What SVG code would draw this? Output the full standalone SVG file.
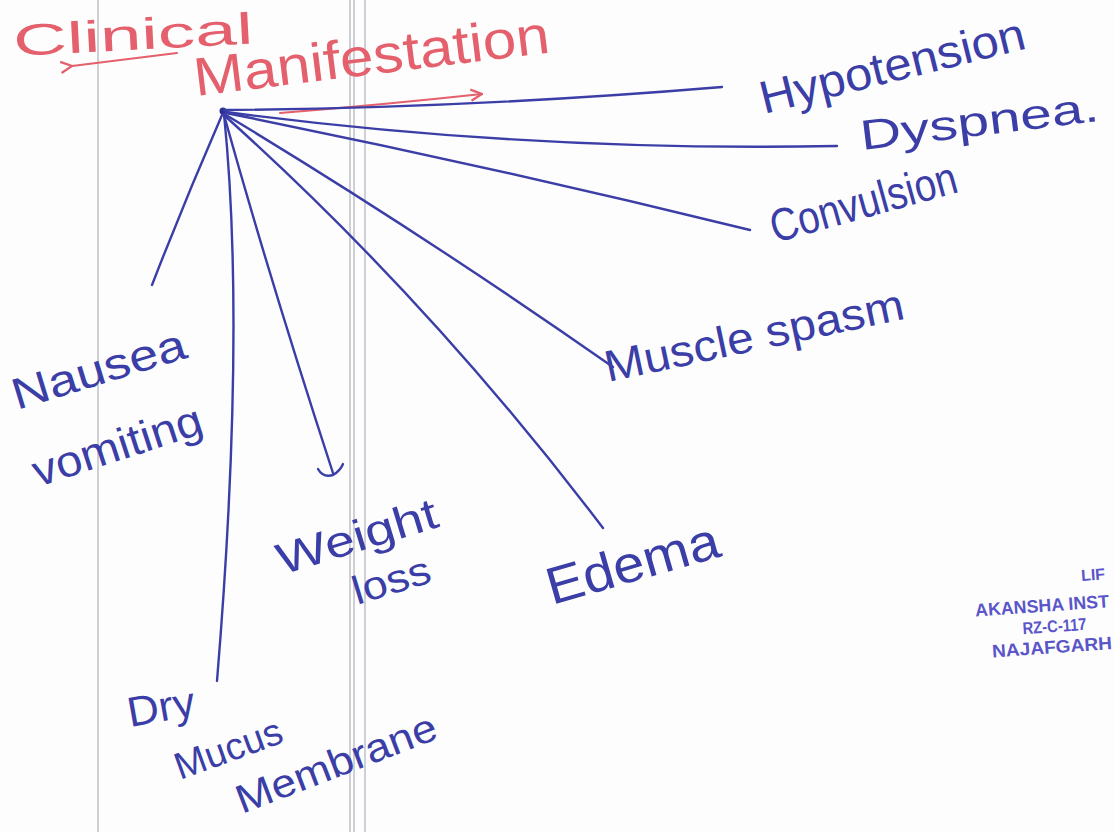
<svg xmlns="http://www.w3.org/2000/svg" width="1115" height="832" viewBox="0 0 1115 832">
  <style>
    .paper { fill: #fdfdfd; }
    .rule { stroke: #cfcfd6; stroke-width: 2; fill: none; }
    .ink { stroke: #3a3ea6; stroke-width: 2.4; fill: none; stroke-linecap: round; stroke-linejoin: round; }
    .red { stroke: #e4606c; stroke-width: 2; fill: none; stroke-linecap: round; stroke-linejoin: round; }
    .lbl { font-family: "Liberation Sans", "DejaVu Sans", sans-serif; fill: #3a3ea6; }
    .title { font-family: "Liberation Sans", "DejaVu Sans", sans-serif; fill: #e4606c; }
    .stamp { font-family: "Liberation Sans Narrow", "Liberation Sans", sans-serif; fill: #5a55c8; font-weight: bold; }
  </style>
  <defs>
    <marker id="tip" viewBox="0 0 10 10" refX="9" refY="5" markerWidth="7" markerHeight="7" orient="auto">
      <path d="M1,1 L9,5 L1,9" fill="none" stroke="#e4606c" stroke-width="1.6"/>
    </marker>
  </defs>

  <rect class="paper" x="0" y="0" width="1115" height="832"/>

  <!-- margin rules of the page -->
  <g id="rules">
    <line class="rule" x1="98" y1="0" x2="98" y2="832"/>
    <line class="rule" x1="350" y1="0" x2="350" y2="832" stroke-width="1.5"/>
    <line class="rule" x1="354" y1="0" x2="354" y2="832" stroke-width="1.5"/>
    <line class="rule" x1="365" y1="0" x2="365" y2="832" stroke-width="1.5"/>
  </g>

  <!-- heading -->
  <g id="title">
    <text class="title" x="14" y="56" font-size="44" transform="rotate(-3 14 56)" textLength="240" lengthAdjust="spacingAndGlyphs">Clinical</text>
    <path class="red" d="M72,66 Q120,60 177,53" marker-start="url(#tip)"/>
    <text class="title" x="196" y="96" font-size="54" transform="rotate(-7 196 96)" textLength="358" lengthAdjust="spacingAndGlyphs">Manifestation</text>
    <path class="red" d="M280,113 Q380,105 482,94" marker-end="url(#tip)"/>
  </g>

  <!-- hub dot -->
  <g id="hub">
    <circle cx="223" cy="111" r="3.5" fill="#2a2e90"/>
  </g>

  <!-- connectors radiating from the hub -->
  <g id="connectors">
    <path class="ink" d="M224,110 Q470,108 722,87"/>
    <path class="ink" d="M226,112 Q530,152 837,146"/>
    <path class="ink" d="M226,113 Q490,166 750,230"/>
    <path class="ink" d="M226,115 Q420,232 613,367"/>
    <path class="ink" d="M225,116 Q430,300 603,528"/>
    <path class="ink" d="M224,115 Q270,280 333,473"/>
    <path class="ink" d="M318,469 Q323,478 333,475 Q340,471 343,464"/>
    <path class="ink" d="M224,114 Q246,330 217,681"/>
    <path class="ink" d="M222,115 Q185,200 152,285"/>
  </g>

  <g id="hypotension">
    <text class="lbl" x="764" y="114" font-size="46" transform="rotate(-14 764 114)" textLength="272" lengthAdjust="spacingAndGlyphs">Hypotension</text>
  </g>
  <g id="dyspnea">
    <text class="lbl" x="862" y="150" font-size="42" transform="rotate(-7 862 150)" textLength="240" lengthAdjust="spacingAndGlyphs">Dyspnea.</text>
  </g>
  <g id="convulsion">
    <text class="lbl" x="775" y="243" font-size="46" transform="rotate(-15.5 775 243)" textLength="192" lengthAdjust="spacingAndGlyphs">Convulsion</text>
  </g>
  <g id="muscle-spasm">
    <text class="lbl" x="608" y="382" font-size="44" transform="rotate(-12 608 382)" textLength="305" lengthAdjust="spacingAndGlyphs">Muscle spasm</text>
  </g>
  <g id="edema">
    <text class="lbl" x="552" y="605" font-size="52" transform="rotate(-16 552 605)" textLength="178" lengthAdjust="spacingAndGlyphs">Edema</text>
  </g>
  <g id="weight-loss">
    <text class="lbl" x="282" y="575" font-size="44" transform="rotate(-17 282 575)" textLength="166" lengthAdjust="spacingAndGlyphs">Weight</text>
    <text class="lbl" x="357" y="605" font-size="40" transform="rotate(-17 357 605)" textLength="80" lengthAdjust="spacingAndGlyphs">loss</text>
  </g>
  <g id="nausea-vomiting">
    <text class="lbl" x="17" y="410" font-size="44" transform="rotate(-17 17 410)" textLength="180" lengthAdjust="spacingAndGlyphs">Nausea</text>
    <text class="lbl" x="38" y="487" font-size="44" transform="rotate(-18 38 487)" textLength="176" lengthAdjust="spacingAndGlyphs">vomiting</text>
  </g>
  <g id="dry-mucus-membrane">
    <text class="lbl" x="130" y="727" font-size="42" transform="rotate(-10 130 727)" textLength="68" lengthAdjust="spacingAndGlyphs">Dry</text>
    <text class="lbl" x="180" y="780" font-size="38" transform="rotate(-20 180 780)" textLength="112" lengthAdjust="spacingAndGlyphs">Mucus</text>
    <text class="lbl" x="242" y="814" font-size="40" transform="rotate(-21 242 814)" textLength="212" lengthAdjust="spacingAndGlyphs">Membrane</text>
  </g>

  <!-- rubber stamp at the right edge -->
  <g id="stamp" transform="rotate(-4 1040 620)">
    <text class="stamp" x="1084" y="584" font-size="16">LIF</text>
    <text class="stamp" x="976" y="612" font-size="18" textLength="134" lengthAdjust="spacingAndGlyphs">AKANSHA INST</text>
    <text class="stamp" x="1022" y="633" font-size="17" textLength="64" lengthAdjust="spacingAndGlyphs">RZ-C-117</text>
    <text class="stamp" x="990" y="654" font-size="18" textLength="120" lengthAdjust="spacingAndGlyphs">NAJAFGARH</text>
  </g>
</svg>
